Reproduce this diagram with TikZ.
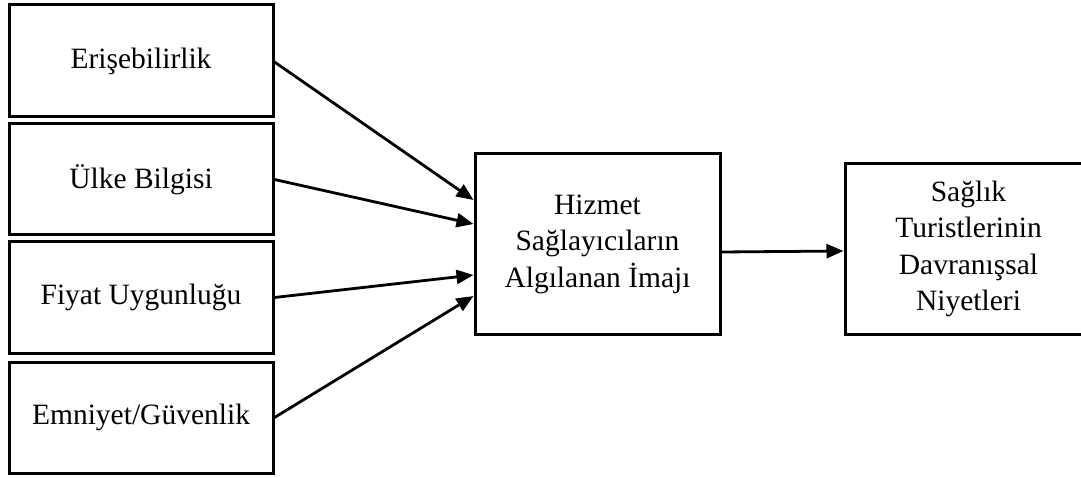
\documentclass[tikz,border=0pt]{standalone}
\usepackage{fontspec}
\setmainfont{Liberation Serif}
\usetikzlibrary{arrows.meta}
\begin{document}
\begin{tikzpicture}[x=1pt,y=-1pt,
  box/.style={draw=black, line width=3pt, inner sep=0pt, align=center,
    font=\fontsize{29.5}{36.5}\selectfont},
  conn/.style={line width=2.8pt, -{Triangle[length=17pt,width=14pt]}}]
\useasboundingbox (0,0) rectangle (1081,478);
\node[box, minimum width=264pt, minimum height=112pt] (a) at (141,61) {Erişebilirlik};
\node[box, minimum width=264pt, minimum height=111pt] (b) at (141,179.5) {Ülke Bilgisi};
\node[box, minimum width=264pt, minimum height=111pt] (c) at (141,297.5) {Fiyat Uygunluğu};
\node[box, minimum width=264pt, minimum height=111pt] (d) at (141,417.5) {Emniyet/Güvenlik};
\node[box, minimum width=245pt, minimum height=180pt] (m) at (597.5,244) {Hizmet\\Sağlayıcıların\\Algılanan İmajı};
\node[box, minimum width=247pt, minimum height=170pt] (r) at (968.5,249) {Sağlık\\Turistlerinin\\Davranışsal\\Niyetleri};
\draw[conn] ([yshift=-1pt]a.east) -- ([yshift=44pt]m.west);
\draw[conn] (b.east) -- ([yshift=20pt]m.west);
\draw[conn] (c.east) -- ([yshift=-31pt]m.west);
\draw[conn] (d.east) -- ([yshift=-52pt]m.west);
\draw[conn] ([yshift=-8pt]m.east) -- ([yshift=-2pt]r.west);
\end{tikzpicture}
\end{document}
